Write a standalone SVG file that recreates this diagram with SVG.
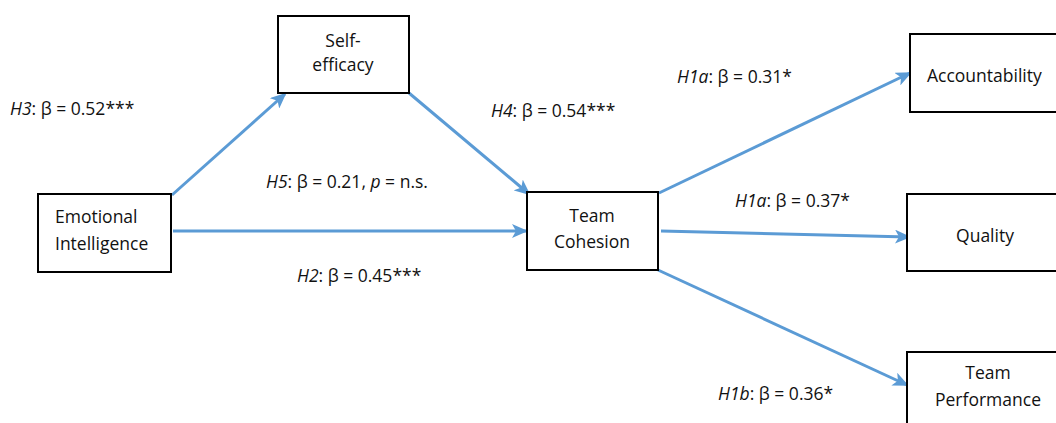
<svg xmlns="http://www.w3.org/2000/svg" width="1056" height="423" viewBox="0 0 1056 423">
<style>
.box{fill:#fff;stroke:#000;stroke-width:2}
text{font-family:"Open Sans","Liberation Sans",sans-serif;font-size:17.5px;fill:#111}
.c{text-anchor:middle}
.edge{stroke:#5B9BD5;stroke-width:3;fill:none;marker-end:url(#ah)}
</style>
<defs>
<marker id="ah" markerUnits="userSpaceOnUse" markerWidth="16" markerHeight="14" refX="14" refY="7" orient="auto">
<path d="M0,0 L16,7 L0,14 L4,7 Z" fill="#5B9BD5"/>
</marker>
</defs>
<rect width="1056" height="423" fill="#fff"/>
<g id="connectors">
<line class="edge" x1="172" y1="195" x2="285" y2="94"/>
<line class="edge" x1="409" y1="93" x2="529" y2="194"/>
<line class="edge" x1="173" y1="231" x2="526" y2="231"/>
<line class="edge" x1="659" y1="193" x2="910" y2="73"/>
<line class="edge" x1="661" y1="231" x2="909" y2="237"/>
<line class="edge" x1="658" y1="270" x2="907" y2="385"/>
</g>
<g id="labels">
<text x="10" y="115"><tspan font-style="italic">H3</tspan>: β = 0.52***</text>
<text x="266" y="188"><tspan font-style="italic">H5</tspan>: β = 0.21, <tspan font-style="italic">p</tspan> = n.s.</text>
<text x="297" y="282"><tspan font-style="italic">H2</tspan>: β = 0.45***</text>
<text x="491" y="117"><tspan font-style="italic">H4</tspan>: β = 0.54***</text>
<text x="677" y="83"><tspan font-style="italic">H1a</tspan>: β = 0.31*</text>
<text x="735" y="207"><tspan font-style="italic">H1a</tspan>: β = 0.37*</text>
<text x="718" y="400"><tspan font-style="italic">H1b</tspan>: β = 0.36*</text>
</g>
<g id="self-efficacy">
<rect class="box" x="278" y="16" width="131" height="77"/>
<text class="c" x="343" y="47">Self-</text>
<text class="c" x="343" y="71">efficacy</text>
</g>
<g id="emotional-intelligence">
<rect class="box" x="38" y="194" width="133" height="78"/>
<text x="55" y="223">Emotional</text>
<text x="55" y="250">Intelligence</text>
</g>
<g id="team-cohesion">
<rect class="box" x="527" y="192" width="131" height="78"/>
<text class="c" x="592" y="222">Team</text>
<text class="c" x="592" y="248">Cohesion</text>
</g>
<g id="accountability">
<rect class="box" x="910" y="34" width="160" height="78"/>
<text x="927" y="82">Accountability</text>
</g>
<g id="quality">
<rect class="box" x="907" y="194" width="160" height="77"/>
<text class="c" x="985" y="242">Quality</text>
</g>
<g id="team-performance">
<rect class="box" x="907" y="352" width="160" height="90"/>
<text class="c" x="988" y="379">Team</text>
<text class="c" x="988" y="406">Performance</text>
</g>
</svg>
